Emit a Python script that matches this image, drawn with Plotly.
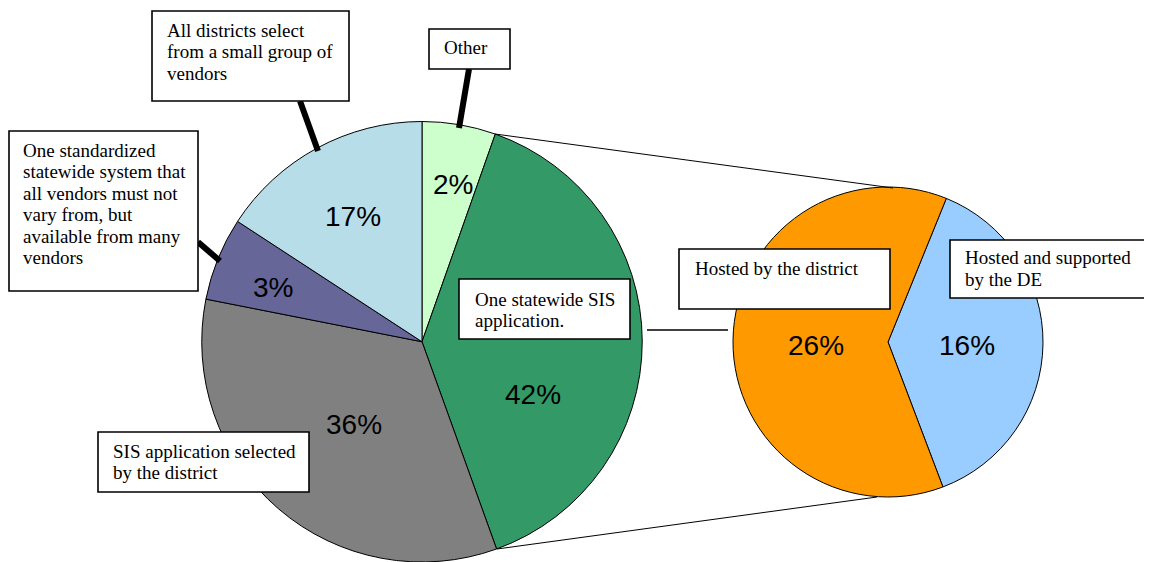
import plotly.graph_objects as go

OFF = 8  # page body margin around the plot div
W, H = 1152 - OFF, 562 - OFF  # figure fills exactly the visible window

# ---------------- data ----------------
main_labels = [
    "Other",
    "One statewide SIS application.",
    "SIS application selected by the district",
    "One standardized statewide system that all vendors must not vary from, but available from many vendors",
    "All districts select from a small group of vendors",
]
# slice shares as drawn in the picture (clockwise from 12 o'clock)
main_shares = [5.4, 39.1, 33.6, 6.1, 15.8]
main_pct_text = ["2%", "42%", "36%", "3%", "17%"]
main_colors = ["#CCFFCC", "#339966", "#808080", "#666699", "#B7DEE8"]

sub_labels = ["Hosted and supported by the DE", "Hosted by the district"]
sub_values = [16, 26]
sub_pct_text = ["16%", "26%"]
sub_colors = ["#99CCFF", "#FF9900"]

# label text split into lines as in the picture
main_label_lines = [
    ["Other"],
    ["One statewide SIS", "application."],
    ["SIS application selected", "by the district"],
    ["One standardized", "statewide system that", "all vendors must not",
     "vary from, but", "available from many", "vendors"],
    ["All districts select", "from a small group of", "vendors"],
]
sub_label_lines = [
    ["Hosted and supported", "by the DE"],
    ["Hosted by the district"],
]


def fx(p):
    return (p - OFF) / W


def fy(p):
    return 1 - (p - OFF) / H


fig = go.Figure()

fig.add_trace(go.Pie(
    values=main_shares, labels=main_labels, text=main_pct_text,
    marker=dict(colors=main_colors, line=dict(color="black", width=1)),
    sort=False, direction="clockwise", rotation=0,
    textinfo="none", hoverinfo="skip", showlegend=False,
    domain=dict(x=[fx(201.5), fx(642.5)], y=[0, fy(121.5)]),
))

fig.add_trace(go.Pie(
    values=sub_values, labels=sub_labels, text=sub_pct_text,
    marker=dict(colors=sub_colors, line=dict(color="black", width=1)),
    sort=False, direction="clockwise", rotation=22.1,
    textinfo="none", hoverinfo="skip", showlegend=False,
    domain=dict(x=[fx(733), fx(1043)], y=[fy(497), fy(187)]),
))

shapes = []
annotations = []


def seg(x0, y0, x1, y1, w=1, color="black"):
    shapes.append(dict(type="line", xref="paper", yref="paper",
                       x0=fx(x0), y0=fy(y0), x1=fx(x1), y1=fy(y1),
                       line=dict(color=color, width=w)))


# connector lines of the pie-of-pie
seg(495, 134, 893, 188)
seg(497, 549, 877, 497)
seg(647, 330, 728, 330, w=1.5)

# thick leader lines
seg(469, 69, 459, 128, w=6)
seg(300, 101, 318, 151, w=6)
seg(198, 242, 220, 261, w=6)

# label boxes: (x0, y0, x1, y1, text_x, first_line_y)
main_box_pos = [
    (429, 29, 510, 69, 442, 47),
    (459, 279, 630, 339, 473, 299),
    (98, 432, 309, 492, 111, 451),
    (9, 131, 198, 291, 21, 150),
    (152, 11, 349, 101, 165, 30),
]
sub_box_pos = [
    (950, 240, 1400, 298, 963, 258),
    (679, 249, 890, 309, 693, 268),
]
LINE_H = 21.6

for lines, (x0, y0, x1, y1, tx, ty) in list(zip(main_label_lines, main_box_pos)) + \
        list(zip(sub_label_lines, sub_box_pos)):
    shapes.append(dict(type="rect", xref="paper", yref="paper",
                       x0=fx(x0), y0=fy(y0), x1=fx(x1), y1=fy(y1),
                       fillcolor="white", line=dict(width=0)))
    # border drawn as an open path when the box runs off the right edge
    if x1 > 1152:
        path = "M {a},{b} L {c},{b} L {c},{d} L {a},{d}".format(
            a=fx(x1), b=fy(y0), c=fx(x0), d=fy(y1))
    else:
        path = "M {a},{b} L {c},{b} L {c},{d} L {a},{d} Z".format(
            a=fx(x1), b=fy(y0), c=fx(x0), d=fy(y1))
    shapes.append(dict(type="path", xref="paper", yref="paper", path=path,
                       line=dict(color="black", width=1.6)))
    for i, ln in enumerate(lines):
        annotations.append(dict(
            xref="paper", yref="paper", x=fx(tx), y=fy(ty + i * LINE_H),
            xanchor="left", yanchor="middle", showarrow=False, text=ln,
            font=dict(family="Liberation Serif, Times New Roman, serif",
                      size=19, color="black")))

# percentage labels
main_pct_pos = [(453, 184), (533, 394), (354, 424), (273, 287), (353, 216)]
sub_pct_pos = [(967, 345), (816, 345)]
for txt, (x, y) in list(zip(main_pct_text, main_pct_pos)) + list(zip(sub_pct_text, sub_pct_pos)):
    annotations.append(dict(
        xref="paper", yref="paper", x=fx(x), y=fy(y),
        xanchor="center", yanchor="middle", showarrow=False, text=txt,
        font=dict(family="Liberation Sans, Arial, sans-serif", size=28, color="black")))

fig.update_layout(
    width=W, height=H,
    margin=dict(l=0, r=0, t=0, b=0),
    paper_bgcolor="white", plot_bgcolor="white",
    shapes=shapes, annotations=annotations,
    showlegend=False,
)

fig.write_html("out.html")
